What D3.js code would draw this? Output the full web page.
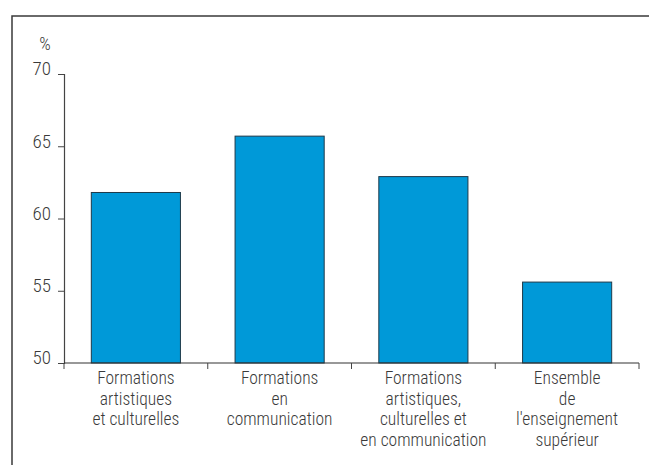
<!DOCTYPE html>
<html>
<head>
  <meta charset="utf-8">
  <script src="https://d3js.org/d3.v7.min.js"></script>
  <style>
    body { margin: 0; background: #fff; }
    text { font-family: "Roboto Condensed", "Liberation Sans Narrow", sans-serif; font-weight: 300; fill: #3a3a3a; }
  </style>
</head>
<body>
<div class="graph"></div>
<script>
  /* data */
  const categories = [
    ["Formations", "artistiques", "et culturelles"],
    ["Formations", "en", "communication"],
    ["Formations", "artistiques,", "culturelles et", "en communication"],
    ["Ensemble", "de", "l'enseignement", "supérieur"]
  ];
  const values = [61.8, 65.7, 62.9, 55.6];
  const yTicks = [50, 55, 60, 65, 70];

  const W = 649, H = 465;
  const margin = { top: 74, left: 64, right: 10, bottom: 102 };
  const width = 639 - margin.left;
  const height = 363 - margin.top;

  const svg = d3.select('.graph')
    .append('svg')
    .attr('width', W)
    .attr('height', H);

  // outer frame (top + left only)
  svg.append('path')
    .attr('d', `M12,${H} L12,16 L${W},16`)
    .attr('fill', 'none')
    .attr('stroke', '#3a3a3a')
    .attr('stroke-width', 1.5);

  const g = svg.append('g')
    .attr('transform', `translate(${margin.left},${margin.top})`);

  const xScale = d3.scaleBand()
    .domain(d3.range(categories.length))
    .range([0, width])
    .paddingInner(0.38)
    .paddingOuter(0.19);

  const yScale = d3.scaleLinear()
    .domain([50, 70])
    .range([height, 0]);

  g.selectAll('.bars')
    .data(values)
    .enter()
    .append('rect')
    .attr('class', 'bars')
    .attr('x', (d, i) => xScale(i))
    .attr('width', xScale.bandwidth())
    .attr('y', d => yScale(d))
    .attr('height', d => height - yScale(d))
    .attr('fill', '#0099d8')
    .attr('stroke', '#1e3a4a')
    .attr('stroke-width', 1);

  /* y axis */
  const yAxis = g.append('g')
    .call(d3.axisLeft(yScale).tickValues(yTicks).tickSize(6).tickPadding(7));
  yAxis.select('.domain').attr('stroke', '#444').attr('stroke-width', 1.2);
  yAxis.selectAll('.tick line').attr('stroke', '#444');
  yAxis.selectAll('.tick text')
    .attr('font-size', 19)
    .attr('dy', '0.05em')
    .style('font-family', '"Roboto Condensed", "Liberation Sans Narrow", sans-serif')
    .style('font-weight', 300)
    .style('fill', '#3a3a3a');

  svg.append('text')
    .attr('x', 45)
    .attr('y', 50)
    .attr('text-anchor', 'middle')
    .attr('font-size', 18)
    .text('%');

  /* x axis: baseline with separator ticks between bands */
  const bounds = d3.range(categories.length + 1).map(i => i * width / categories.length);
  g.append('line')
    .attr('x1', 0).attr('x2', width)
    .attr('y1', height).attr('y2', height)
    .attr('stroke', '#333').attr('stroke-width', 1.2);
  g.selectAll('.xtick')
    .data(bounds)
    .enter()
    .append('line')
    .attr('x1', d => d).attr('x2', d => d)
    .attr('y1', height).attr('y2', height + 6)
    .attr('stroke', '#444');

  const labels = g.selectAll('.xlabel')
    .data(categories)
    .enter()
    .append('text')
    .attr('class', 'xlabel')
    .attr('text-anchor', 'middle')
    .attr('font-size', 17.5)
    .attr('transform', (d, i) => `translate(${xScale(i) + xScale.bandwidth() / 2},${height + 21})`);
  labels.selectAll('tspan')
    .data(d => d)
    .enter()
    .append('tspan')
    .attr('x', 0)
    .attr('y', (d, i) => i * 20.5)
    .text(d => d);
</script>
</body>
</html>
